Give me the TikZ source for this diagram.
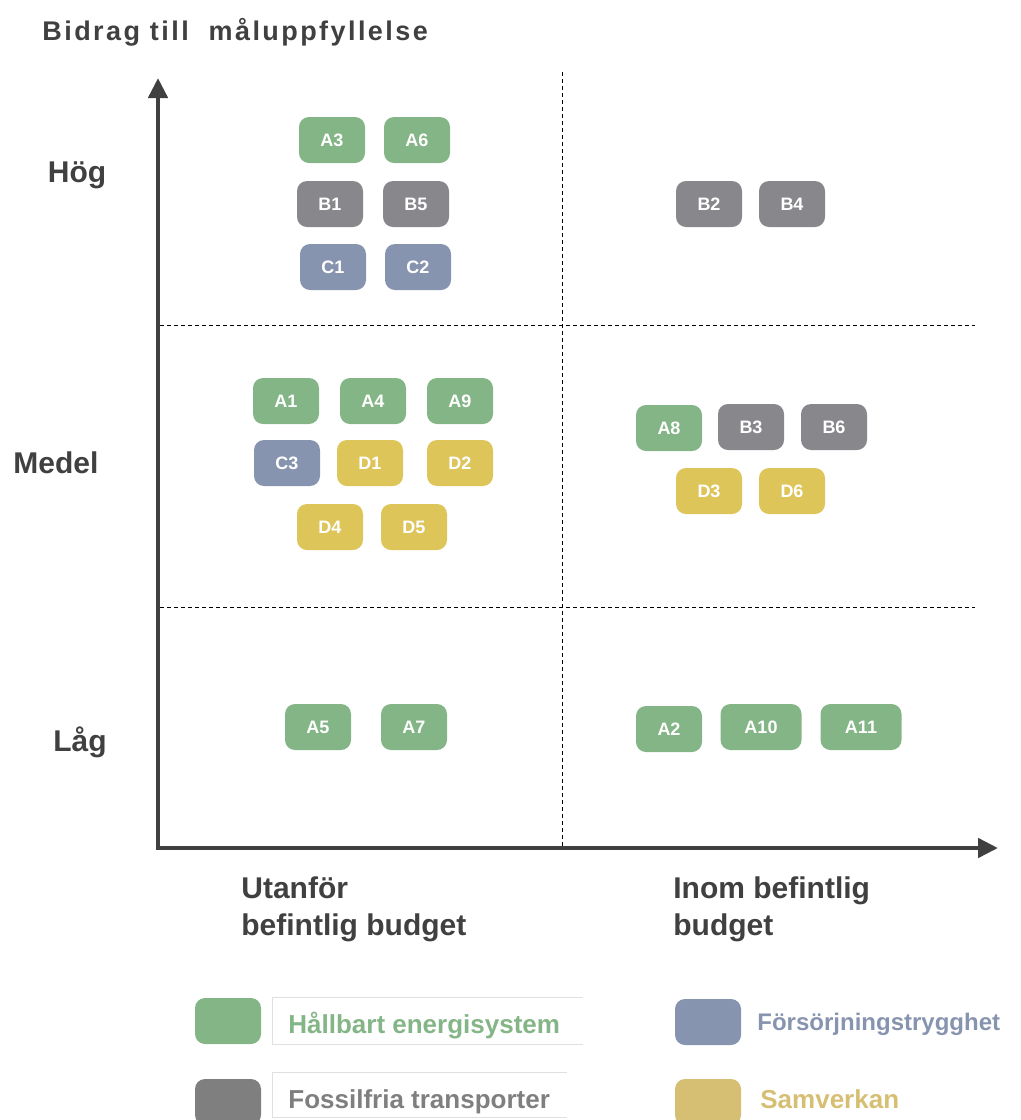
\documentclass[tikz,border=0pt]{standalone}
\usepackage{
	fontspec,
	xcolor
}
\usetikzlibrary{arrows.meta}
\setmainfont{Liberation Sans}
\definecolor{axisgray}{HTML}{404040}
\definecolor{groupA}{HTML}{84B586}
\definecolor{groupB}{HTML}{88878C}
\definecolor{groupC}{HTML}{8794AF}
\definecolor{groupD}{HTML}{DEC55A}
\definecolor{keyB}{HTML}{7F7F7F}
\definecolor{keyD}{HTML}{D6BF73}
\tikzset{
	tag/.style={rounded corners=5pt,minimum width=33pt,minimum height=23pt,inner sep=0pt,
		text=white,font=\bfseries\fontsize{9}{10}\selectfont},
	axislabel/.style={inner sep=0pt,text=axisgray,font=\bfseries\fontsize{15}{18.5}\selectfont},
	keytext/.style={anchor=base west,inner sep=0pt,font=\bfseries\fontsize{13}{15}\selectfont},
	divider/.style={dash pattern=on 2pt off 1.5pt,line width=0.5pt,black}
}

\begin{document}
\begin{tikzpicture}[x=0.5pt,y=-0.5pt]
		\useasboundingbox (0,0) rectangle (1021,1120);
		\node[anchor=base west,inner sep=0pt,text=axisgray,font=\bfseries\fontsize{13.5}{15}\selectfont] (title) at (42,40)
			{\addfontfeature{LetterSpace=9}Bidrag till\ \ måluppfyllelse};
		% quadrant dividers
		\coordinate (vtop) at (562,72);
		\coordinate (vbot) at (562,848);
		\draw[divider] (vtop) -- (vbot);
		\foreach \y/\n in {325/hi,607/lo}{
			\coordinate (\n left) at (160,\y);
			\coordinate (\n right) at (975,\y);
			\draw[divider] (\n left) -- (\n right);
		}
		% axes
		\coordinate (origin) at (158,848);
		\coordinate (ytip) at (158,78);
		\coordinate (xtip) at (998,848);
		\draw[axisgray,line width=2.3pt,{Triangle[length=10pt,width=9.5pt]}-{Triangle[length=10pt,width=9.5pt]}]
			(ytip) -- (origin) -- (xtip);
		\node[axislabel,anchor=base] (hog) at (77,182) {Hög};
		\node[axislabel,anchor=base] (medel) at (56,473) {Medel};
		\node[axislabel,anchor=base] (lag) at (80,751) {Låg};
		\node[axislabel,anchor=base west,align=left] (outside) at (241,935) {Utanför\\befintlig budget};
		\node[axislabel,anchor=base west,align=left] (inside) at (673,935) {Inom befintlig\\budget};
		% measures
		\foreach \name/\x/\y/\col in {A3/332/140/groupA, A6/417/140/groupA, B1/330/204/groupB, B5/416/204/groupB,
			C1/333/267/groupC, C2/418/267/groupC, B2/709/204/groupB, B4/792/204/groupB,
			A1/286/401/groupA, A4/373/401/groupA, A9/460/401/groupA, C3/287/463/groupC,
			D1/370/463/groupD, D2/460/463/groupD, D4/330/527/groupD, D5/414/527/groupD,
			A8/669/428/groupA, B3/751/427/groupB, B6/834/427/groupB, D3/709/491/groupD, D6/792/491/groupD,
			A5/318/727/groupA, A7/414/727/groupA, A2/669/729/groupA}
		\node[tag,fill=\col] (\name) at (\x,\y) {\name};
		\node[tag,fill=groupA,minimum width=40.5pt] (A10) at (761,727) {A10};
		\node[tag,fill=groupA,minimum width=40.5pt] (A11) at (861,727) {A11};
		% legend
		\draw[black!12] (583,997) -| (272,1044) -- (583,1044);
		\draw[black!12] (567,1072) -| (272,1117) -- (567,1117);
		\node[tag,fill=groupA] (keyA) at (228,1021) {};
		\node[tag,fill=keyB] (keyB) at (228,1102) {};
		\node[tag,fill=groupC] (keyC) at (708,1022) {};
		\node[tag,fill=keyD] (keyD) at (708,1102) {};
		\node[keytext,text=groupA] (keyAtext) at (288,1033) {Hållbart energisystem};
		\node[keytext,text=keyB] (keyBtext) at (288,1108) {Fossilfria transporter};
		\node[keytext,text=groupC,font=\bfseries\fontsize{12}{14}\selectfont] (keyCtext) at (757,1030) {Försörjningstrygghet};
		\node[keytext,text=keyD] (keyDtext) at (760,1108) {Samverkan};
	\end{tikzpicture}
\end{document}
